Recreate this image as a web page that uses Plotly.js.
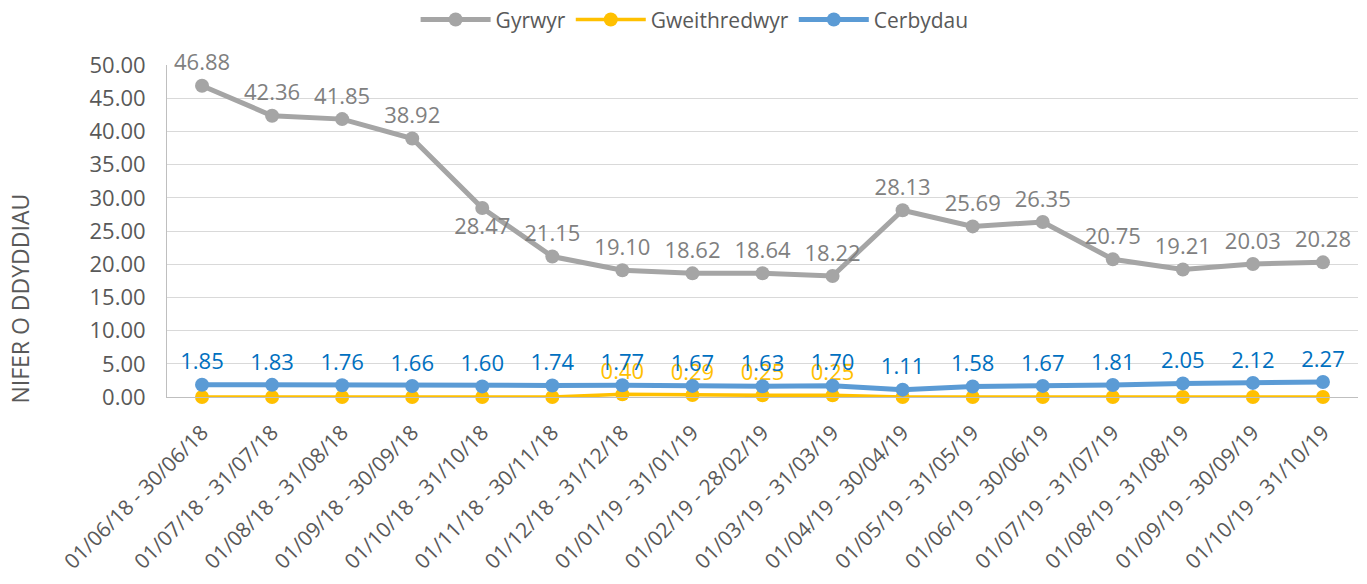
<!DOCTYPE html>
<html>
<head>
<meta charset="utf-8">
<script src="https://cdn.plot.ly/plotly-3.0.1.min.js"></script>
<style>html,body{margin:0;padding:0;background:#fff;}#chart{width:1367px;height:584px;}</style>
</head>
<body>
<div id="chart"></div>
<script>
const categories = [
  "01/06/18 - 30/06/18","01/07/18 - 31/07/18","01/08/18 - 31/08/18","01/09/18 - 30/09/18",
  "01/10/18 - 31/10/18","01/11/18 - 30/11/18","01/12/18 - 31/12/18","01/01/19 - 31/01/19",
  "01/02/19 - 28/02/19","01/03/19 - 31/03/19","01/04/19 - 30/04/19","01/05/19 - 31/05/19",
  "01/06/19 - 30/06/19","01/07/19 - 31/07/19","01/08/19 - 31/08/19","01/09/19 - 30/09/19",
  "01/10/19 - 31/10/19"
];
const gyrwyr = [46.88,42.36,41.85,38.92,28.47,21.15,19.10,18.62,18.64,18.22,28.13,25.69,26.35,20.75,19.21,20.03,20.28];
const gweithredwyr = [0,0,0,0,0,0,0.40,0.29,0.25,0.25,0,0,0,0,0,0,0];
const cerbydau = [1.85,1.83,1.76,1.66,1.60,1.74,1.77,1.67,1.63,1.70,1.11,1.58,1.67,1.81,2.05,2.12,2.27];
const yTickVals = [0,5,10,15,20,25,30,35,40,45,50];

const fmt = v => v.toFixed(2);
const idx = categories.map((_, i) => i);
const font = "Open Sans, sans-serif";

const traces = [
  {
    name: "Gyrwyr", x: idx, y: gyrwyr, type: "scatter", mode: "lines+markers+text",
    line: {color: "#a5a5a5", width: 5}, marker: {color: "#a5a5a5", size: 14},
    text: gyrwyr.map(fmt),
    textposition: gyrwyr.map((v, i) => i === 4 ? "bottom center" : "top center"),
    textfont: {family: font, size: 22, color: "#808080"},
    cliponaxis: false, hoverinfo: "y"
  },
  {
    name: "Gweithredwyr", x: idx, y: gweithredwyr, type: "scatter", mode: "lines+markers+text",
    line: {color: "#ffc000", width: 3.5}, marker: {color: "#ffc000", size: 14},
    text: gweithredwyr.map(v => v === 0 ? "" : fmt(v)),
    textposition: "top center",
    textfont: {family: font, size: 22, color: "#ffc000"},
    cliponaxis: false, hoverinfo: "y"
  },
  {
    name: "Cerbydau", x: idx, y: cerbydau, type: "scatter", mode: "lines+markers+text",
    line: {color: "#5b9bd5", width: 5}, marker: {color: "#5b9bd5", size: 14},
    text: cerbydau.map(fmt),
    textposition: "top center",
    textfont: {family: font, size: 22, color: "#0070c0"},
    cliponaxis: false, hoverinfo: "y"
  }
];

const layout = {
  width: 1367, height: 584,
  margin: {l: 167, r: 9, t: 65, b: 187, autoexpand: false},
  paper_bgcolor: "#ffffff", plot_bgcolor: "#ffffff",
  font: {family: font, color: "#595959"},
  showlegend: true,
  legend: {
    orientation: "h", x: 0.443, xanchor: "center", y: 1.136, yanchor: "middle",
    font: {family: font, size: 21, color: "#595959"}, itemwidth: 70
  },
  xaxis: {
    type: "linear", range: [-0.5, 16.5],
    tickmode: "array", tickvals: idx, ticktext: categories,
    tickangle: -45, tickfont: {family: font, size: 21, color: "#595959"},
    ticklabelstandoff: 14,
    showgrid: false, zeroline: false, showline: true, linecolor: "#bfbfbf", linewidth: 1,
    ticks: "", fixedrange: true
  },
  yaxis: {
    range: [0, 50], tickmode: "array", tickvals: yTickVals, ticktext: yTickVals.map(fmt),
    tickfont: {family: font, size: 22, color: "#595959"},
    ticklabelstandoff: 16,
    showgrid: true, gridcolor: "#d9d9d9", gridwidth: 1,
    zeroline: false, showline: true, linecolor: "#bfbfbf", linewidth: 1,
    ticks: "", ticklen: 0, fixedrange: true
  },
  annotations: [{
    text: "NIFER O DDYDDIAU", textangle: -90,
    xref: "paper", yref: "paper", x: -0.123, y: 0.295,
    xanchor: "center", yanchor: "middle", showarrow: false,
    font: {family: font, size: 23, color: "#595959"}
  }]
};

Plotly.newPlot("chart", traces, layout, {displayModeBar: false, staticPlot: true});
</script>
</body>
</html>
